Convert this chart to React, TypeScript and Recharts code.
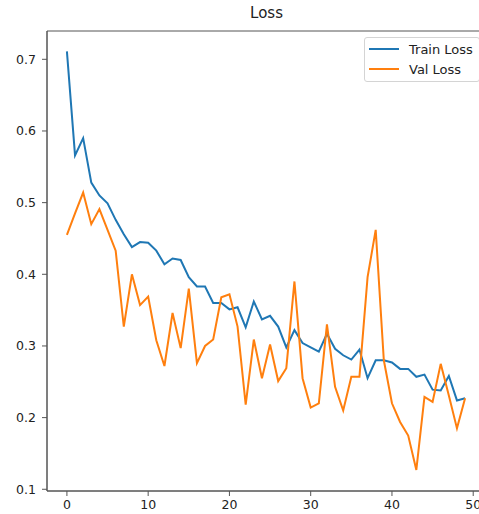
import React from 'react'
import { LineChart, Line, XAxis, YAxis, ReferenceArea } from 'recharts'

// epochs 0..49
const epochs = [
  0, 1, 2, 3, 4, 5, 6, 7, 8, 9, 10, 11, 12, 13, 14, 15, 16, 17, 18, 19, 20, 21, 22, 23, 24,
  25, 26, 27, 28, 29, 30, 31, 32, 33, 34, 35, 36, 37, 38, 39, 40, 41, 42, 43, 44, 45, 46, 47, 48, 49,
]

const trainLoss = [
  0.711, 0.566, 0.59, 0.528, 0.51, 0.499, 0.476, 0.456, 0.438, 0.445,
  0.444, 0.433, 0.414, 0.422, 0.42, 0.396, 0.383, 0.383, 0.36, 0.36,
  0.351, 0.354, 0.326, 0.362, 0.337, 0.342, 0.327, 0.298, 0.322, 0.304,
  0.298, 0.292, 0.317, 0.296, 0.287, 0.281, 0.295, 0.255, 0.28, 0.28,
  0.277, 0.268, 0.268, 0.257, 0.26, 0.239, 0.238, 0.258, 0.224, 0.227,
]

const valLoss = [
  0.455, 0.485, 0.514, 0.47, 0.491, 0.462, 0.433, 0.327, 0.4, 0.357,
  0.369, 0.308, 0.272, 0.346, 0.297, 0.38, 0.276, 0.3, 0.309, 0.368,
  0.372, 0.327, 0.218, 0.309, 0.255, 0.302, 0.251, 0.269, 0.39, 0.255,
  0.214, 0.22, 0.33, 0.243, 0.21, 0.257, 0.257, 0.396, 0.462, 0.28,
  0.22, 0.194, 0.175, 0.127, 0.229, 0.222, 0.275, 0.231, 0.185, 0.227,
]

const xTicks = [0, 10, 20, 30, 40, 50]
const yTicks = [0.1, 0.2, 0.3, 0.4, 0.5, 0.6, 0.7]
const xDomain = [-2.45, 51.45]
const yDomain = [0.0976, 0.7395]

const data = epochs.map((e, i) => ({ epoch: e, train: trainLoss[i], val: valLoss[i] }))

const FONT = 'DejaVu Sans, sans-serif'
const AXIS = '#555'

function LegendBox() {
  const items = [
    { label: 'Train Loss', color: '#1f77b4' },
    { label: 'Val Loss', color: '#ff7f0e' },
  ]
  return (
    <div
      style={{
        position: 'absolute',
        left: 364,
        top: 37,
        border: '1px solid #d4d4d4',
        borderRadius: 3,
        background: 'rgba(255,255,255,0.8)',
        padding: '1px 6px 2px 4px',
        fontFamily: FONT,
        fontSize: 13,
        color: '#222',
        width: 104,
      }}
    >
      {items.map((it) => (
        <div key={it.label} style={{ display: 'flex', alignItems: 'center', height: 20 }}>
          <span style={{ display: 'inline-block', width: 30, height: 2, background: it.color, marginRight: 10 }} />
          <span>{it.label}</span>
        </div>
      ))}
    </div>
  )
}

export default function App() {
  return (
    <div style={{ position: 'absolute', left: 0, top: 0, width: 479, height: 514, overflow: 'hidden', background: '#fff' }}>
      <div
        style={{
          position: 'absolute',
          left: 0,
          width: 533,
          top: 4,
          textAlign: 'center',
          fontFamily: FONT,
          fontSize: 15,
          color: '#222',
        }}
      >
        Loss
      </div>
      <LineChart width={500} height={514} data={data} margin={{ top: 31, right: 15, bottom: 0, left: 0 }}>
        <XAxis
          dataKey="epoch"
          type="number"
          domain={xDomain}
          ticks={xTicks}
          allowDataOverflow
          height={23}
          tickSize={5}
          tickMargin={4}
          stroke={AXIS}
          tick={{ fill: '#222', fontSize: 12.5, fontFamily: FONT }}
        />
        <YAxis
          type="number"
          domain={yDomain}
          ticks={yTicks}
          allowDataOverflow
          width={47}
          tickSize={5}
          tickMargin={6}
          stroke={AXIS}
          tickFormatter={(v: number) => v.toFixed(1)}
          tick={{ fill: '#222', fontSize: 12.5, fontFamily: FONT }}
        />
        <ReferenceArea
          x1={xDomain[0]}
          x2={xDomain[1]}
          y1={yDomain[0]}
          y2={yDomain[1]}
          fill="none"
          stroke={AXIS}
          strokeWidth={1}
          ifOverflow="visible"
        />
        <Line dataKey="train" name="Train Loss" stroke="#1f77b4" strokeWidth={2} dot={false} isAnimationActive={false} />
        <Line dataKey="val" name="Val Loss" stroke="#ff7f0e" strokeWidth={2} dot={false} isAnimationActive={false} />
      </LineChart>
      <LegendBox />
    </div>
  )
}
